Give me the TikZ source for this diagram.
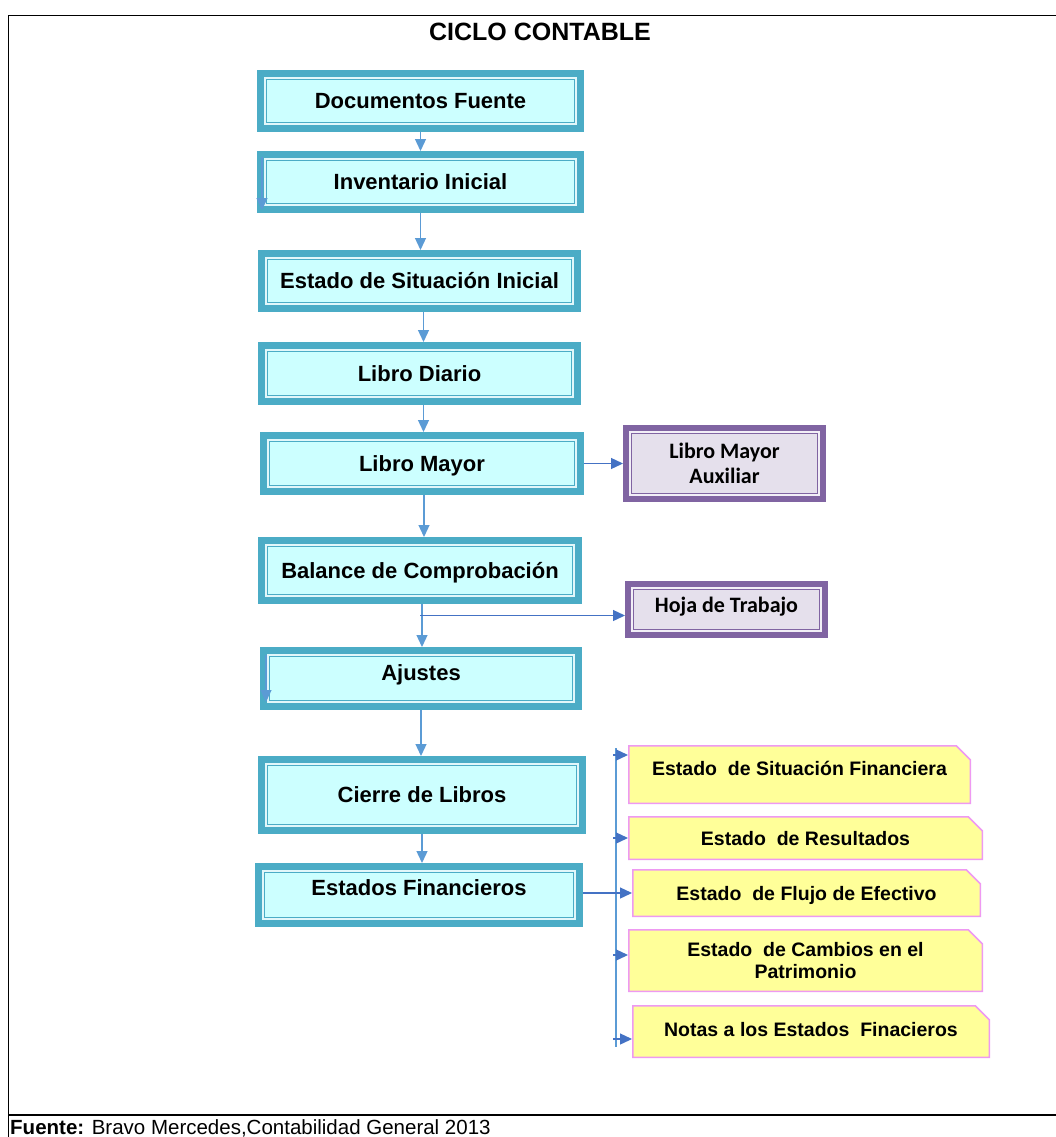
\documentclass[tikz,border=0pt]{standalone}
\usepackage{fontspec}
\setmainfont{Liberation Sans}
\newfontfamily\carlito{Carlito}
\usetikzlibrary{arrows.meta,shapes.misc}
\definecolor{tealc}{HTML}{4BACC6}
\definecolor{tealgap}{HTML}{E2F7FA}
\definecolor{cyanfill}{HTML}{CCFFFF}
\definecolor{purp}{HTML}{8064A2}
\definecolor{purpgap}{HTML}{F2EFF7}
\definecolor{purpfill}{HTML}{E5E0EC}
\definecolor{yellowc}{HTML}{FFFF99}
\definecolor{pinkc}{HTML}{EE99F2}
\definecolor{blueL}{HTML}{5B9BD5}
\definecolor{blueD}{HTML}{4472C4}
\tikzset{
  mainbox/.style={draw=tealc, line width=7pt, fill=tealgap,
    font=\fontsize{22}{25}\selectfont\bfseries, text height=15.8pt, text depth=0pt,
    path picture={\draw[tealc, line width=1.4pt, fill=cyanfill]
      ([shift={(6.2pt,-6.2pt)}]path picture bounding box.north west) rectangle
      ([shift={(-6.2pt,6.2pt)}]path picture bounding box.south east);}},
  pbox/.style={draw=purp, line width=6pt, fill=purpgap, align=center,
    font=\carlito\fontsize{22}{25.5}\selectfont\bfseries,
    path picture={\draw[purp, line width=1.3pt, fill=purpfill]
      ([shift={(5.8pt,-5.8pt)}]path picture bounding box.north west) rectangle
      ([shift={(-5.8pt,5.8pt)}]path picture bounding box.south east);}},
  ybox/.style={chamfered rectangle, chamfered rectangle corners=north east,
    chamfered rectangle xsep=7pt, chamfered rectangle ysep=7pt,
    draw=pinkc, line width=1.5pt, fill=yellowc, align=center,
    font=\fontsize{19.5}{22.5}\selectfont\bfseries},
  varrow/.style={draw=blueL, line width=1.3pt, -{Triangle[length=12pt,width=11pt]}},
  harrow/.style={draw=blueD, line width=1.3pt, -{Triangle[length=12pt,width=11pt]}},
  busline/.style={draw=blueL, line width=1.3pt},
  frame/.style={draw=black, line width=1.6pt}
}
\begin{document}
\begin{tikzpicture}[x=1pt,y=-1pt]
\useasboundingbox[fill=white] (0,0) rectangle (1055,1137);
% frame
\draw[frame] (1057,15.5) -- (8.5,15.5) -- (8.5,1140);
\draw[frame] (8.5,1115) -- (1057,1115);
\node[anchor=base, font=\fontsize{25}{28}\selectfont\bfseries] (title) at (540,41) {CICLO CONTABLE};
\node[anchor=base west, font=\fontsize{20.5}{23}\selectfont, inner xsep=0pt, inner ysep=0pt] (src) at (10,1134) {\textbf{Fuente:} Bravo Mercedes,Contabilidad General 2013};
% main boxes
\node[mainbox, minimum width=320pt, minimum height=55pt] (DF) at (420.5,101) {Documentos Fuente};
\node[mainbox, minimum width=320pt, minimum height=55pt] (II) at (420.5,182) {Inventario Inicial};
\node[mainbox, minimum width=316pt, minimum height=55pt] (ESI) at (419.5,281) {Estado de Situación Inicial};
\node[mainbox, minimum width=316pt, minimum height=56pt] (LD) at (419.5,373.5) {Libro Diario};
\node[mainbox, minimum width=317pt, minimum height=56pt] (LM) at (422,463.5) {Libro Mayor};
\node[mainbox, minimum width=317pt, minimum height=60pt] (BC) at (420,570.5) {Balance de Comprobación};
\node[mainbox, minimum width=315pt, minimum height=56pt, text depth=11pt] (AJ) at (421,678.5) {Ajustes};
\node[mainbox, minimum width=321pt, minimum height=71pt] (CL) at (422,795) {Cierre de Libros};
\node[mainbox, minimum width=321pt, minimum height=57pt, text depth=14pt] (EF) at (419,895) {Estados Financieros};
% purple boxes
\node[pbox, minimum width=197pt, minimum height=71pt] (LMA) at (724.5,463.5) {Libro Mayor\\Auxiliar};
\node[pbox, minimum width=197pt, minimum height=51pt, text height=13.5pt, text depth=8pt] (HT) at (726.5,609.5) {Hoja de Trabajo};
% yellow boxes
\node[ybox, minimum width=341.5pt, minimum height=57.5pt, text height=14pt, text depth=12pt] (Y1) at (799.5,774.5) {Estado~\ de Situación Financiera};
\node[ybox, minimum width=353.5pt, minimum height=42.5pt, text height=14pt, text depth=0pt] (Y2) at (805.5,838) {Estado~\ de Resultados};
\node[ybox, minimum width=347.5pt, minimum height=46.5pt, text height=14pt, text depth=0pt] (Y3) at (806.5,893) {Estado~\ de Flujo de Efectivo};
\node[ybox, minimum width=353.5pt, minimum height=61.5pt] (Y4) at (805.5,960.5) {Estado~\ de Cambios en el\\Patrimonio};
\node[ybox, minimum width=356.5pt, minimum height=51.5pt, text height=14pt, text depth=4pt] (Y5) at (811,1031.5) {Notas a los Estados~\ Finacieros};
% vertical flow
\draw[varrow] (DF.south) -- (DF.south |- II.north);
\draw[varrow] (II.south) -- (II.south |- ESI.north);
\draw[varrow] ([xshift=4pt]ESI.south) -- ([xshift=4pt]ESI.south |- LD.north);
\draw[varrow] ([xshift=4pt]LD.south) -- ([xshift=4pt]LD.south |- LM.north);
\draw[varrow] ([xshift=2pt]LM.south) -- ([xshift=2pt]LM.south |- BC.north);
\draw[varrow] ([xshift=2pt]BC.south) -- ([xshift=2pt]BC.south |- AJ.north);
\draw[varrow] (AJ.south) -- (AJ.south |- CL.north);
\draw[varrow] (CL.south) -- (CL.south |- EF.north);
% stray arrows inside boxes
\draw[varrow] ([xshift=5pt,yshift=-6pt]II.north west) -- ([xshift=5pt,yshift=3pt]II.south west);
\draw[varrow] ([xshift=6pt,yshift=-8pt]AJ.north west) -- ([xshift=6pt,yshift=8pt]AJ.south west);
% side connectors
\draw[harrow] (LM.east) -- (LM.east -| LMA.west);
\draw[harrow, shorten <=-2pt] ([yshift=-6pt,xshift=2pt]HT.west -| BC.south) -- ([yshift=-6pt]HT.west);
\coordinate (busT) at (616,748);
\coordinate (busB) at (616,1047);
\draw[busline] (busT) -- (busB);
\draw[harrow, shorten <=-3pt] ([yshift=19.5pt]Y1.west -| busT) -- ([yshift=19.5pt]Y1.west);
\draw[harrow, shorten <=-3pt] (Y2.west -| busT) -- (Y2.west);
\draw[harrow] (Y3.west -| EF.east) -- (Y3.west);
\draw[harrow, shorten <=-3pt] ([yshift=5.5pt]Y4.west -| busT) -- ([yshift=5.5pt]Y4.west);
\draw[harrow, shorten <=-3pt] ([yshift=-7.5pt]Y5.west -| busT) -- ([yshift=-7.5pt]Y5.west);
\end{tikzpicture}
\end{document}
